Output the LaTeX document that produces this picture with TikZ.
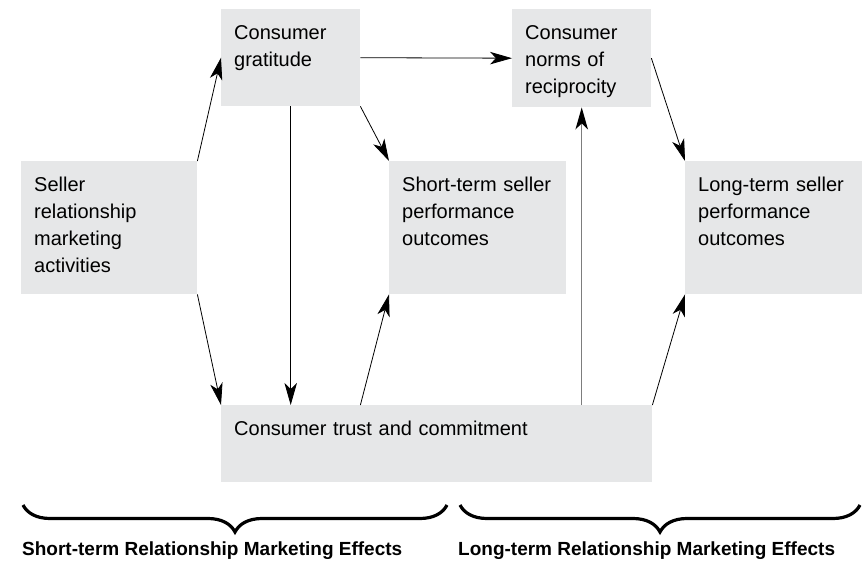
\documentclass[tikz,border=0pt]{standalone}
\usepackage{fontspec}
\setmainfont{Liberation Sans}
\usetikzlibrary{arrows.meta,decorations.pathreplacing}
\definecolor{boxgray}{RGB}{230,231,232}
\definecolor{linkgray}{RGB}{125,125,125}

\begin{document}
\begin{tikzpicture}[x=1pt,y=-1pt,>={Stealth[length=22pt,width=12.5pt,inset=6pt]}]
\tikzstyle{box}=[rectangle,fill=boxgray,anchor=north west,align=left,inner xsep=13pt,inner ysep=0pt,text height=30pt,font=\fontsize{20}{27}\selectfont]
\tikzstyle{link}=[->,line width=0.8pt]
\tikzstyle{effect}=[anchor=base west,inner sep=0pt,font=\bfseries\fontsize{19}{22}\selectfont]
\tikzstyle{span}=[decorate,decoration={brace,mirror,amplitude=27pt},line width=3.2pt]

\useasboundingbox (0,0) rectangle (865,564);

\node[box,text width=113pt,text depth=67pt]  (grat)   at (221,9)   {Consumer\\gratitude};
\node[box,text width=150pt,text depth=103pt] (seller) at (21,161)  {Seller\\relationship\\marketing\\activities};
\node[box,text width=151pt,text depth=103pt] (short)  at (389,161) {Short-term seller\\performance\\outcomes};
\node[box,text width=113pt,text depth=68pt]  (norms)  at (512,9)   {Consumer\\norms of\\reciprocity};
\node[box,text width=151pt,text depth=103pt] (long)   at (685,161) {Long-term seller\\performance\\outcomes};
\node[box,text width=405pt,text depth=47pt]  (trust)  at (221,405) {Consumer trust and commitment};

\draw[link] (seller.north east) -- (grat.west);
\draw[link] (seller.south east) -- (trust.north west);
\draw[link] (grat.south) -- (grat.south |- trust.north);
\draw[link] (grat.south east) -- (short.north west);
\draw[link] (grat.east) -- (norms.west);
\draw[link] (trust.north -| grat.east) -- (short.south west);
\draw[link,line width=1.4pt,linkgray,arrows={-Stealth[length=22pt,width=12.5pt,inset=6pt,black]}] (norms.south |- trust.north) -- (norms.south);
\draw[link] (norms.east) -- (long.north west);
\draw[link] (trust.north east) -- (long.south west);

% braces and their captions
\draw[span] (23,505) -- (447,505);
\draw[span] (460,505) -- (860,505);
\node[effect] (shortfx) at (22,555)  {Short-term Relationship Marketing Effects};
\node[effect] (longfx)  at (458,555) {Long-term Relationship Marketing Effects};

\end{tikzpicture}
\end{document}
